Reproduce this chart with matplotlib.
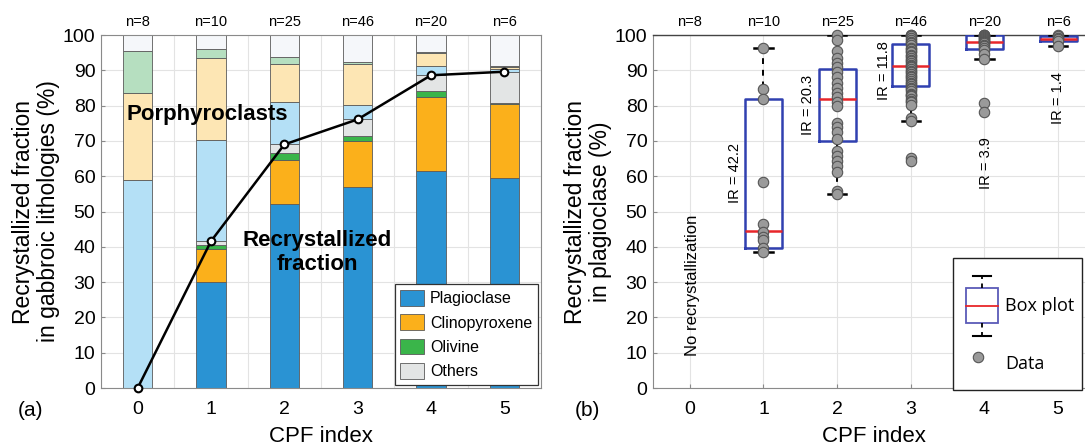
import numpy as np
import matplotlib
matplotlib.use("Agg")
import matplotlib.pyplot as plt
from matplotlib.legend_handler import HandlerBase
from matplotlib.patches import Patch, Rectangle
from matplotlib.lines import Line2D

plt.rcParams['font.family'] = ['Liberation Sans', 'DejaVu Sans']

cpf = [0, 1, 2, 3, 4, 5]
n_samples = [8, 10, 25, 46, 20, 6]
minerals = ['Plagioclase', 'Clinopyroxene', 'Olivine', 'Others']

# (a) recrystallized part of each phase (% of rock)
rx_plag = [0, 30.0, 52.1, 56.9, 61.5, 59.6]
rx_cpx = [0, 9.4, 12.5, 13.2, 21.0, 20.9]
rx_ol = [0, 1.0, 1.9, 1.3, 1.7, 0.2]
rx_oth = [0, 1.2, 2.5, 4.7, 4.4, 8.9]

# (a) porphyroclasts
px_plag = [59.0, 28.6, 11.9, 4.1, 2.7, 0.8]
px_cpx = [24.5, 23.2, 10.8, 11.5, 3.5, 0.6]
px_ol = [12.1, 2.7, 2.1, 0.6, 0.5, 0.2]
px_oth = [4.4, 3.9, 6.2, 7.7, 4.7, 8.8]

# (b) recrystallized fraction in plagioclase, samples per CPF index
plag_cpf1 = [96.4, 84.6, 81.8, 58.4, 46.4, 44.2, 42.9, 41.8, 39.6, 38.6]
plag_cpf2 = [100, 98.6, 95.5, 93.6, 92.2, 90.8, 89.4, 88.0, 86.5, 85.1,
             83.7, 82.3, 80.9, 79.9, 75.2, 73.8, 72.4, 70.5, 67.2, 65.8,
             64.4, 63.0, 61.1, 55.9, 55.0]
plag_cpf3 = [100, 100, 99.6, 99.1, 98.7, 98.0, 97.6, 97.1, 96.4, 96.0,
             95.6, 95.1, 94.3, 94.0, 93.4, 92.9, 92.6, 92.0, 91.5, 91.2,
             90.9, 90.4, 89.8, 89.5, 89.0, 88.3, 88.0, 87.6, 86.9, 86.5,
             86.0, 85.6, 85.0, 84.6, 84.1, 83.4, 83.0, 82.6, 82.0, 81.4,
             81.0, 80.3, 76.4, 75.7, 65.2, 64.2]
plag_cpf4 = [100, 100, 99.9, 99.8, 99.5, 99.2, 99.0, 98.6, 98.3, 98.1,
             98.0, 97.6, 97.2, 96.8, 96.3, 95.8, 94.5, 93.1, 80.6, 78.1]
plag_cpf5 = [100, 99.6, 99.2, 99.0, 98.2, 97.0]
plag_data = [plag_cpf1, plag_cpf2, plag_cpf3, plag_cpf4, plag_cpf5]

box_pos = [1, 2, 3, 4, 5]
box_q1 = [39.6, 70.0, 85.6, 96.0, 98.2]
box_med = [44.6, 81.9, 91.2, 98.1, 99.0]
box_q3 = [81.8, 90.3, 97.4, 99.9, 99.6]
box_lo = [38.6, 55.0, 75.7, 93.1, 97.0]
box_hi = [96.4, 100, 100, 100, 100]

# where the IR labels sit (x, y in data units)
ir_label_pos = [(0.61, 61), (1.61, 80.2), (2.63, 90), (4.02, 63.6), (5.0, 82)]

c_rx = ['#2a93d3', '#fbb01b', '#3ab54a', '#e3e5e5']
c_px = ['#b4e0f6', '#fde6b4', '#b6dfc0', '#f5f7fa']
grid_c = '#e3e3e3'
spine_c = '#8a8a8a'


class BoxPlotHandler(HandlerBase):
    def create_artists(self, legend, orig_handle, xdescent, ydescent,
                       width, height, fontsize, trans):
        x0, y0 = -xdescent, -ydescent
        cx, cy = x0 + width * 0.6, y0 + height / 2
        bw, bh = width * 0.86, height * 0.95
        cap = height * 0.8
        dash = (0, (2.5, 2.5))
        arts = [
            Rectangle((cx - bw / 2, cy - bh / 2), bw, bh, fill=False,
                      edgecolor='#5a5ab8', lw=1.3, transform=trans),
            Line2D([cx - bw / 2, cx + bw / 2], [cy, cy], color='#e8262a',
                   lw=1.3, transform=trans),
            Line2D([cx, cx], [cy + bh / 2, cy + cap], color='k', lw=1.3,
                   ls=dash, transform=trans),
            Line2D([cx, cx], [cy - bh / 2, cy - cap], color='k', lw=1.3,
                   ls=dash, transform=trans),
            Line2D([cx - bw * 0.28, cx + bw * 0.28], [cy + cap, cy + cap],
                   color='k', lw=1.5, transform=trans),
            Line2D([cx - bw * 0.28, cx + bw * 0.28], [cy - cap, cy - cap],
                   color='k', lw=1.5, transform=trans),
        ]
        return arts


fig = plt.figure(figsize=(10.85, 4.46), dpi=100)
ax1 = fig.add_axes([0.0931, 0.130, 0.4055, 0.7915])
ax2 = fig.add_axes([0.6018, 0.130, 0.4074, 0.7915])

# ---------------- (a) stacked bars ----------------
layers = [rx_plag, rx_cpx, rx_ol, rx_oth, px_plag, px_cpx, px_ol, px_oth]
colors = c_rx + c_px
bottom = np.zeros(len(cpf))
for vals, col in zip(layers, colors):
    vals = np.array(vals)
    ax1.bar(cpf, vals, 0.4, bottom=bottom, color=col,
            edgecolor='#5a5a5a', linewidth=0.6, zorder=2)
    bottom += vals

rx_total = np.array(rx_plag) + np.array(rx_cpx) + np.array(rx_ol) + np.array(rx_oth)
ax1.plot(cpf, rx_total, '-o', color='k', lw=1.8, ms=5.5, mfc='white',
         mec='k', mew=1.5, zorder=4, clip_on=False)

ax1.text(0.95, 77.6, 'Porphyroclasts', fontsize=16, fontweight='bold',
         ha='center', va='center', zorder=5)
ax1.text(2.45, 38.3, 'Recrystallized\nfraction', fontsize=16,
         fontweight='bold', ha='center', va='center', zorder=5,
         linespacing=1.2)

handles = [Patch(facecolor=c, edgecolor='#5a5a5a', lw=0.6) for c in c_rx]
leg1 = ax1.legend(handles, minerals, loc='lower right', fontsize=11.5,
                  handlelength=1.5, handleheight=1.15, labelspacing=0.5,
                  handletextpad=0.35, borderpad=0.35, borderaxespad=0.2,
                  fancybox=False, framealpha=1, edgecolor='#333333')
leg1.get_frame().set_linewidth(0.9)
leg1.set_zorder(6)

ax1.set_xlim(-0.5, 5.5)
ax1.set_ylim(0, 100)
ax1.set_xticks(cpf)
ax1.set_xticks(np.arange(-0.5, 5.6, 0.5), minor=True)
ax1.set_yticks(np.arange(0, 101, 10))
ax1.grid(True, which='both', axis='x', color=grid_c, lw=0.8, zorder=0)
ax1.grid(True, which='major', axis='y', color=grid_c, lw=0.8, zorder=0)
ax1.set_axisbelow(True)
ax1.set_ylabel('Recrystallized fraction\nin gabbroic lithologies (%)',
               fontsize=16.5, labelpad=2, linespacing=1.1)
ax1.set_xlabel('CPF index', fontsize=16, labelpad=6)

# ---------------- (b) box plots ----------------
stats = []
for q1, med, q3, lo, hi in zip(box_q1, box_med, box_q3, box_lo, box_hi):
    stats.append(dict(q1=q1, med=med, q3=q3, whislo=lo, whishi=hi, fliers=[]))
ax2.bxp(stats, positions=box_pos, widths=0.5, capwidths=0.25,
        showfliers=False, manage_ticks=False,
        boxprops=dict(color='#3040b0', lw=1.8),
        medianprops=dict(color='#e8262a', lw=1.8),
        whiskerprops=dict(color='k', lw=1.4, ls=(0, (3, 3))),
        capprops=dict(color='k', lw=1.8), zorder=3)

for pos, vals in zip(box_pos, plag_data):
    ax2.plot([pos] * len(vals), vals, 'o', ms=7.5, mfc='#9a9a9a',
             mec='#555555', mew=0.8, zorder=4, clip_on=False)

for (x, y), q1, q3 in zip(ir_label_pos, box_q1, box_q3):
    ax2.text(x, y, f'IR = {q3 - q1:.1f}', rotation=90, fontsize=10.5,
             ha='center', va='center', zorder=5)
ax2.text(0.04, 29, 'No recrystallization', rotation=90, fontsize=12,
         ha='center', va='center')

box_handle = Rectangle((0, 0), 1, 1)
data_handle = Line2D([], [], ls='none', marker='o', ms=7.5, mfc='#9a9a9a',
                     mec='#555555', mew=0.8)
leg2 = ax2.legend([box_handle, data_handle], ['Box plot', 'Data'],
                  handler_map={Rectangle: BoxPlotHandler()},
                  loc='upper left', bbox_to_anchor=(0.679, 0.368),
                  borderaxespad=0, handlelength=2.0,
                  handleheight=2.8, labelspacing=1.15, handletextpad=0.5,
                  borderpad=0.4, fancybox=False, framealpha=1,
                  edgecolor='#222222', title=' ', title_fontsize=1,
                  prop={'family': ['Open Sans', 'DejaVu Sans'], 'size': 13})
leg2.get_frame().set_linewidth(1.0)
leg2.set_zorder(6)

ax2.set_xlim(-0.5, 5.5)
ax2.set_ylim(0, 100)
ax2.set_xticks(cpf)
ax2.set_yticks(np.arange(0, 101, 10))
ax2.grid(True, color=grid_c, lw=0.8, zorder=0)
ax2.set_axisbelow(True)
ax2.set_ylabel('Recrystallized fraction\nin plagioclase (%)', fontsize=16.5,
               labelpad=2, linespacing=1.1)
ax2.set_xlabel('CPF index', fontsize=16, labelpad=6)

for ax in (ax1, ax2):
    for s in ax.spines.values():
        s.set_color(spine_c)
        s.set_linewidth(0.8)
    ax.tick_params(direction='in', length=3, color=spine_c, labelsize=14)
    ax.tick_params(axis='x', pad=9)
    ax.tick_params(axis='y', pad=4)
    ax.tick_params(which='minor', length=0)
    for x, n in zip(cpf, n_samples):
        ax.text(x, 1.038, f'n={n}', transform=ax.get_xaxis_transform(),
                ha='center', va='center', fontsize=10.5)
ax2.spines['top'].set_color('#444444')
ax2.spines['top'].set_linewidth(1.0)

fig.text(30 / 1085, 1 - 411 / 446, '(a)', fontsize=15, ha='center', va='center')
fig.text(587 / 1085, 1 - 411 / 446, '(b)', fontsize=15, ha='center', va='center')

fig.savefig('out.png', dpi=100)
